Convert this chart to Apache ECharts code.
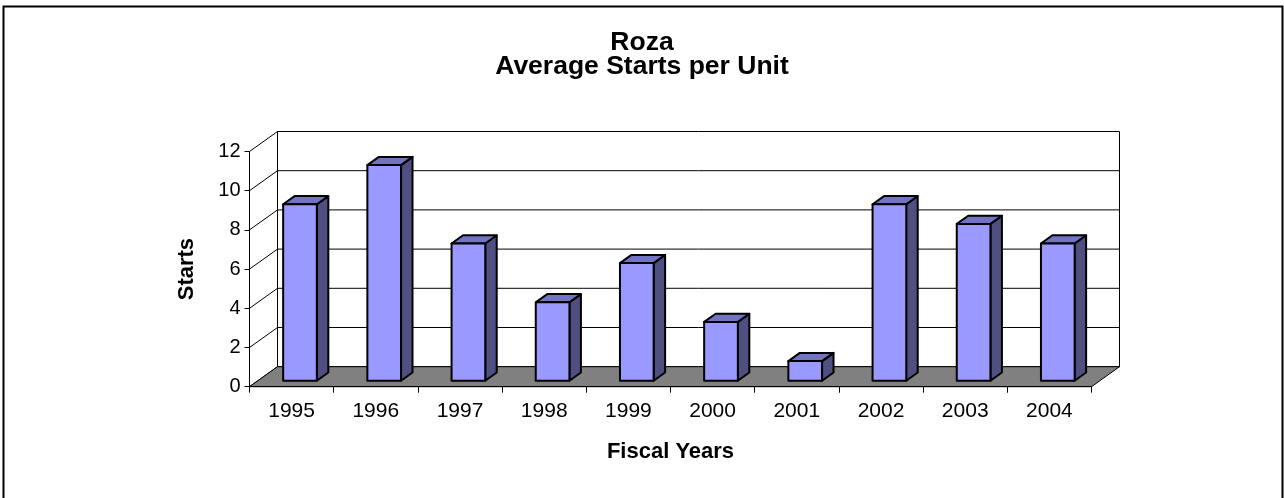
<!DOCTYPE html>
<html>
<head>
<meta charset="utf-8">
<script src="https://cdn.jsdelivr.net/npm/echarts@6/dist/echarts.min.js"></script>
<style>
  html, body { margin: 0; padding: 0; background: #fff; }
  #chart { width: 1284px; height: 498px; }
</style>
</head>
<body>
<div id="chart"></div>
<script>
const years = ['1995', '1996', '1997', '1998', '1999', '2000', '2001', '2002', '2003', '2004'];
const starts = [9, 11, 7, 4, 6, 3, 1, 9, 8, 7];
const startTicks = [0, 2, 4, 6, 8, 10, 12];

// 3d depth of the plot box, in pixels
const DX = 28, DY = -20;
// bars sit between these fractions of the depth
const F1 = 0.3, F2 = 0.71;
const FONT = "'Liberation Sans', Arial, sans-serif";

const chart = echarts.init(document.getElementById('chart'));

function renderWalls(params, api) {
  const cs = params.coordSys;
  const x0 = cs.x, x1 = cs.x + cs.width;
  const yBase = api.coord([0, 0])[1];
  const yTop = api.coord([0, startTicks[startTicks.length - 1]])[1];
  const kids = [];
  const line = (a, b, w) => ({
    type: 'line',
    shape: { x1: a[0], y1: a[1], x2: b[0], y2: b[1] },
    style: { stroke: '#000', lineWidth: w || 1 }
  });
  startTicks.forEach(t => {
    const y = api.coord([0, t])[1];
    kids.push(line([x0 + DX, y + DY], [x1 + DX, y + DY]));
    kids.push(line([x0, y], [x0 + DX, y + DY]));
  });
  kids.push(line([x0 + DX, yTop + DY], [x0 + DX, yBase + DY]));
  kids.push(line([x1 + DX, yTop + DY], [x1 + DX, yBase + DY]));
  kids.push({
    type: 'polygon',
    shape: { points: [[x0, yBase], [x1, yBase], [x1 + DX, yBase + DY], [x0 + DX, yBase + DY]] },
    style: { fill: '#808080', stroke: '#000', lineWidth: 1 }
  });
  return { type: 'group', children: kids };
}

function renderBar(params, api) {
  const i = api.value(0), v = api.value(1);
  const base = api.coord([i, 0]);
  const top = api.coord([i, v]);
  const bw = api.size([1, 0])[0] * 0.4;
  const L = base[0] - bw / 2, R = base[0] + bw / 2;
  const fx = F1 * DX, fy = F1 * DY, bx = F2 * DX, by = F2 * DY;
  const st = { stroke: '#000', lineWidth: 2, lineJoin: 'round' };
  return {
    type: 'group',
    children: [
      {
        type: 'polygon',
        shape: { points: [[R + fx, top[1] + fy], [R + bx, top[1] + by], [R + bx, base[1] + by], [R + fx, base[1] + fy]] },
        style: Object.assign({ fill: '#4f4f82' }, st)
      },
      {
        type: 'polygon',
        shape: { points: [[L + fx, top[1] + fy], [R + fx, top[1] + fy], [R + bx, top[1] + by], [L + bx, top[1] + by]] },
        style: Object.assign({ fill: '#7373c4' }, st)
      },
      {
        type: 'rect',
        shape: { x: L + fx, y: top[1] + fy, width: bw, height: base[1] - top[1] },
        style: Object.assign({ fill: '#9999ff' }, st)
      }
    ]
  };
}

const option = {
  animation: false,
  backgroundColor: '#fff',
  title: {
    text: 'Roza\nAverage Starts per Unit',
    left: 'center',
    top: 31,
    padding: 0,
    textStyle: { fontFamily: FONT, fontSize: 26.5, fontWeight: 'bold', color: '#000', lineHeight: 24 }
  },
  graphic: [{
    type: 'rect',
    shape: { x: 3.5, y: 6.5, width: 1279, height: 500 },
    style: { fill: 'none', stroke: '#000', lineWidth: 2 },
    z: 100
  }],
  grid: { left: 249.5, right: 192.5, top: 151.5, bottom: 111.3 },
  xAxis: {
    type: 'category',
    data: years,
    axisLine: { lineStyle: { color: '#000', width: 1 } },
    axisTick: { show: true, length: 6, lineStyle: { color: '#000' } },
    axisLabel: { fontFamily: FONT, fontSize: 21, color: '#000', margin: 14 },
    name: 'Fiscal Years',
    nameLocation: 'middle',
    nameGap: 54,
    nameTextStyle: { fontFamily: FONT, fontSize: 22, fontWeight: 'bold', color: '#000' },
    z: 10
  },
  yAxis: {
    type: 'value',
    min: startTicks[0],
    max: startTicks[startTicks.length - 1],
    interval: 2,
    axisLine: { show: true, lineStyle: { color: '#000', width: 1 } },
    axisTick: { show: true, length: 5, lineStyle: { color: '#000' } },
    splitLine: { show: false },
    axisLabel: { fontFamily: FONT, fontSize: 20, color: '#000', margin: 9 },
    name: 'Starts',
    nameLocation: 'middle',
    nameGap: 52,
    nameRotate: 90,
    nameTextStyle: { fontFamily: FONT, fontSize: 22, fontWeight: 'bold', color: '#000' }
  },
  series: [
    {
      type: 'custom',
      renderItem: renderWalls,
      data: [[0, 0]],
      clip: false,
      silent: true,
      z: 1
    },
    {
      type: 'custom',
      renderItem: renderBar,
      data: starts.map((v, i) => [i, v]),
      encode: { x: 0, y: 1 },
      clip: false,
      z: 5
    }
  ]
};

chart.setOption(option);
</script>
</body>
</html>
